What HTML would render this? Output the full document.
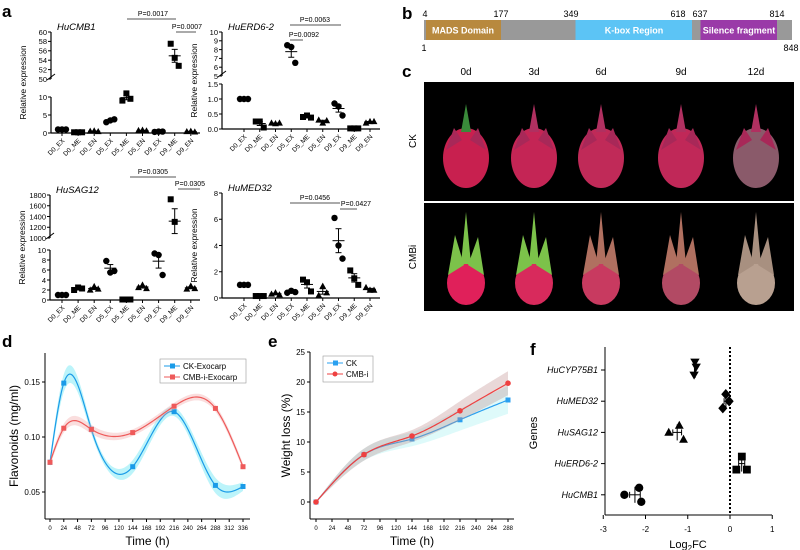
<!DOCTYPE html>
<html><head><meta charset="utf-8"><style>
body{margin:0;background:#fff}
svg{display:block;font-family:"Liberation Sans",Arial,sans-serif}
</style></head><body>
<svg id="fig" width="800" height="550" viewBox="0 0 800 550">
<g font-weight="bold" font-size="17">
<text x="2" y="17">a</text>
<text x="402" y="19">b</text>
<text x="402" y="77">c</text>
<text x="2" y="347">d</text>
<text x="268" y="347">e</text>
<text x="530" y="355">f</text>
</g>
<g font-size="9">
<rect x="424" y="20" width="368" height="20" fill="#999"/>
<rect x="426" y="20" width="75" height="20" fill="#b8893e"/>
<rect x="575.5" y="20" width="116.5" height="20" fill="#5cc4f5"/>
<rect x="700.5" y="20" width="76.5" height="20" fill="#9a3aa8"/>
<text x="463" y="33.5" fill="#fff" font-weight="bold" text-anchor="middle" font-size="9">MADS Domain</text>
<text x="634" y="33.5" fill="#fff" font-weight="bold" text-anchor="middle" font-size="9">K-box Region</text>
<text x="739" y="33.5" fill="#fff" font-weight="bold" text-anchor="middle" font-size="9">Silence fragment</text>
<text x="425" y="17" text-anchor="middle">4</text>
<text x="501" y="17" text-anchor="middle">177</text>
<text x="571" y="17" text-anchor="middle">349</text>
<text x="678" y="17" text-anchor="middle">618</text>
<text x="700" y="17" text-anchor="middle">637</text>
<text x="777" y="17" text-anchor="middle">814</text>
<text x="424" y="51" text-anchor="middle">1</text>
<text x="791" y="51" text-anchor="middle">848</text>
</g>
<g id="photos" font-size="10">
<text x="466" y="75" text-anchor="middle">0d</text>
<text x="534" y="75" text-anchor="middle">3d</text>
<text x="601" y="75" text-anchor="middle">6d</text>
<text x="681" y="75" text-anchor="middle">9d</text>
<text x="756" y="75" text-anchor="middle">12d</text>
<rect x="424" y="82" width="370" height="119" fill="#000"/>
<rect x="424" y="203" width="370" height="108" fill="#000"/>
<text transform="translate(416,141) rotate(-90)" text-anchor="middle">CK</text>
<text transform="translate(416,257) rotate(-90)" text-anchor="middle">CMBi</text>
</g>
<g id="pa"></g>
<g id="pd"></g>
<g id="pe"></g>
<g id="pf"></g>
</svg>
<script>
const NS="http://www.w3.org/2000/svg";
function mk(p,t,a,txt){const e=document.createElementNS(NS,t);for(const k in a)e.setAttribute(k,a[k]);if(txt!==undefined)e.textContent=txt;p.appendChild(e);return e;}

const aCategories=["D0_EX","D0_ME","D0_EN","D5_EX","D5_ME","D5_EN","D9_EX","D9_ME","D9_EN"];
const cmb1Values=[[1,1,1],[0.2,0.2,0.2],[0.5,0.6,0.4],[3.0,3.5,3.8],[9,11,9.5],[0.7,0.8,0.6],[0.3,0.4,0.4],[57.5,54.5,52.8],[0.4,0.5,0.3]];
const erd62Values=[[1,1,1],[0.25,0.25,0.05],[0.2,0.18,0.2],[8.5,8.3,6.5],[0.4,0.45,0.38],[0.3,0.2,0.28],[0.85,0.75,0.45],[0.02,0.02,0.02],[0.2,0.25,0.25]];
const sag12Values=[[1,1,1],[2,2.5,2.3],[2,2.7,2.2],[7.8,5.5,5.8],[0.1,0.1,0.1],[2.5,3,2.3],[9.3,9,5],[1720,1300,920],[2.2,2.8,2.3]];
const med32Values=[[1,1,1],[0.15,0.15,0.15],[0.3,0.4,0.25],[0.4,0.55,0.45],[1.4,1.2,0.5],[0.2,0.9,0.4],[6.1,4.0,3.0],[2.1,1.5,1.0],[0.8,0.6,0.6]];
const cmb1Ticks=[[0,5,10],[50,52,54,56,58,60]];
const erd62Ticks=[["0.0","0.5","1.0","1.5"],[5,6,7,8,9,10]];
const sag12Ticks=[[0,2,4,6,8,10],[1000,1200,1400,1600,1800]];
const med32Ticks=[[0,2,4,6,8]];

function dot(g,shape,x,y,name){
  let e;
  if(shape==="circle") e=mk(g,"circle",{cx:x,cy:y,r:3.2,fill:"#000"});
  else if(shape==="square") e=mk(g,"rect",{x:x-3,y:y-3,width:6,height:6,fill:"#000"});
  else if(shape==="tri") e=mk(g,"polygon",{points:`${x},${y-3.6} ${x-3.4},${y+2.6} ${x+3.4},${y+2.6}`,fill:"#000"});
  else if(shape==="vtri") e=mk(g,"polygon",{points:`${x},${y+3.6} ${x-3.6},${y-2.6} ${x+3.6},${y-2.6}`,fill:"#000"});
  else if(shape==="diamond") e=mk(g,"polygon",{points:`${x},${y-4} ${x-3.5},${y} ${x},${y+4} ${x+3.5},${y}`,fill:"#000"});
  
  
  return e;
}
function stats(v){const m=v.reduce((a,b)=>a+b,0)/v.length;const sd=Math.sqrt(v.reduce((a,b)=>a+(b-m)*(b-m),0)/(v.length-1));return [m,sd/Math.sqrt(v.length)];}

function panelA(cfg){
  const g=mk(document.getElementById("pa"),"g",{});
  
  
  const segs=cfg.segs;
  const yOf=v=>{let s=segs[0];for(const sg of segs){if(v>=sg.lo)s=sg;}return s.y0+(v-s.lo)/(s.hi-s.lo)*(s.y1-s.y0);};
  const xOf=i=>cfg.cx0+i*cfg.step;
  mk(g,"line",{x1:cfg.ax,x2:cfg.xEnd,y1:segs[0].y0,y2:segs[0].y0,stroke:"#000","stroke-width":1.2});
  segs.forEach((s,si)=>{
    mk(g,"line",{x1:cfg.ax,x2:cfg.ax,y1:s.y0,y2:s.y1,stroke:"#000","stroke-width":1.2});
    cfg.ticks[si].forEach(t=>{const yy=s.y0+(+t-s.lo)/(s.hi-s.lo)*(s.y1-s.y0);
      mk(g,"line",{x1:cfg.ax-3,x2:cfg.ax,y1:yy,y2:yy,stroke:"#000"});
      mk(g,"text",{x:cfg.ax-4,y:yy+2.8,"text-anchor":"end","font-size":7.5},t);});
    if(si>0){mk(g,"line",{x1:cfg.ax-4,x2:cfg.ax+4,y1:s.y0+1,y2:s.y0-5,stroke:"#000"});}
  });
  mk(g,"text",{transform:`translate(${cfg.ax-25},${(segs[0].y0+segs[segs.length-1].y1)/2}) rotate(-90)`,"text-anchor":"middle","font-size":8.5},"Relative expression");
  mk(g,"text",{x:cfg.ax+6,y:segs[segs.length-1].y1-2,"font-size":9.5,"font-style":"italic"},cfg.title);
  const shapes=["circle","square","tri"];
  aCategories.forEach((c,i)=>{
    const x=xOf(i);
    mk(g,"line",{x1:x,x2:x,y1:segs[0].y0,y2:segs[0].y0+3,stroke:"#000"});
    mk(g,"text",{transform:`translate(${x+3},${segs[0].y0+8}) rotate(-45)`,"text-anchor":"end","font-size":6.5},c);
    const v=cfg.values[i];const [m,se]=stats(v);
    const offs=[-4,0,4];
    v.forEach((val,k)=>dot(g,shapes[i%3],x+offs[k],yOf(val),"point-"+c.toLowerCase().replace("_","-")));
    const ym=yOf(m),yh=yOf(m+se),yl=yOf(Math.max(0,m-se));
    mk(g,"line",{x1:x-6,x2:x+6,y1:ym,y2:ym,stroke:"#000","stroke-width":1});
    mk(g,"line",{x1:x,x2:x,y1:yl,y2:yh,stroke:"#000","stroke-width":1});
    mk(g,"line",{x1:x-3,x2:x+3,y1:yh,y2:yh,stroke:"#000"});
    mk(g,"line",{x1:x-3,x2:x+3,y1:yl,y2:yl,stroke:"#000"});
  });
  cfg.pvals.forEach(p=>{
    mk(g,"line",{x1:p[0],x2:p[1],y1:p[2],y2:p[2],stroke:"#555","stroke-width":1});
    mk(g,"text",{x:p[3],y:p[2]-3,"text-anchor":"middle","font-size":7},p[4]);
  });
}
panelA({name:"hucmb1-chart",title:"HuCMB1",ax:51,xEnd:200,cx0:62,step:16.1,values:cmb1Values,ticks:cmb1Ticks,
  segs:[{lo:0,hi:10,y0:133,y1:97},{lo:50,hi:60,y0:79,y1:32}],
  pvals:[[127,176,19,153,"P=0.0017"],[176,196,32,187,"P=0.0007"]]});
panelA({name:"huerd6-2-chart",title:"HuERD6-2",ax:222,xEnd:380,cx0:244,step:15.75,values:erd62Values,ticks:erd62Ticks,
  segs:[{lo:0,hi:1.5,y0:129,y1:84},{lo:5,hi:10,y0:76,y1:32}],
  pvals:[[290,341,25,315,"P=0.0063"],[290,303,40,304,"P=0.0092"]]});
panelA({name:"husag12-chart",title:"HuSAG12",ax:50,xEnd:200,cx0:62,step:16.1,values:sag12Values,ticks:sag12Ticks,
  segs:[{lo:0,hi:10,y0:300,y1:250},{lo:1000,hi:1800,y0:238,y1:195}],
  pvals:[[130,176,177,153,"P=0.0305"],[178,200,189,190,"P=0.0305"]]});
panelA({name:"humed32-chart",title:"HuMED32",ax:222,xEnd:380,cx0:244,step:15.75,values:med32Values,ticks:med32Ticks,
  segs:[{lo:0,hi:8,y0:298,y1:193}],
  pvals:[[290,340,203,315,"P=0.0456"],[340,357,209,356,"P=0.0427"]]});

(function(){
  const g=document.getElementById("photos");
  const cx=[466,534,601,681,756];
  const ckCol=["#c8204f","#c42555","#c02a58","#c02858","#8a5a6a"];
  const cmCol=["#e0205a","#d82a5c","#c83a60","#b24a64","#b8a090"];
  cx.forEach((x,i)=>{
    const f=mk(g,"g",{});
    
    
    mk(f,"ellipse",{cx:x,cy:158,rx:23,ry:30,fill:ckCol[i]});
    mk(f,"polygon",{points:`${x-5},${132} ${x},${104} ${x+5},${132}`,fill:i==0?"#3a8a3a":"#b03060"});
    mk(f,"polygon",{points:`${x-20},${150} ${x-12},${128} ${x-4},${140}`,fill:"#a82858"});
    mk(f,"polygon",{points:`${x+4},${140} ${x+12},${128} ${x+20},${150}`,fill:"#a82858"});
    const h=mk(g,"g",{});
    
    
    mk(h,"ellipse",{cx:x,cy:283,rx:19,ry:22,fill:cmCol[i]});
    const sp=i<2?"#7cc24a":(i<4?"#b07060":"#a89080");
    mk(h,"polygon",{points:`${x-5},${264} ${x},${212} ${x+5},${264}`,fill:sp});
    mk(h,"polygon",{points:`${x-18},${275} ${x-11},${235} ${x-2},${265}`,fill:sp});
    mk(h,"polygon",{points:`${x+2},${265} ${x+12},${237} ${x+18},${275}`,fill:sp});
  });
})();

function spline(xs,ys){
  const n=xs.length-1,h=[],al=[],l=[1],mu=[0],z=[0],c=new Array(n+1).fill(0),b=[],d=[];
  for(let i=0;i<n;i++)h.push(xs[i+1]-xs[i]);
  for(let i=1;i<n;i++)al[i]=3/h[i]*(ys[i+1]-ys[i])-3/h[i-1]*(ys[i]-ys[i-1]);
  for(let i=1;i<n;i++){l[i]=2*(xs[i+1]-xs[i-1])-h[i-1]*mu[i-1];mu[i]=h[i]/l[i];z[i]=(al[i]-h[i-1]*z[i-1])/l[i];}
  for(let j=n-1;j>=0;j--){c[j]=(j>0?z[j]-mu[j]*c[j+1]:0);b[j]=(ys[j+1]-ys[j])/h[j]-h[j]*(c[j+1]+2*c[j])/3;d[j]=(c[j+1]-c[j])/(3*h[j]);}
  return t=>{let j=0;while(j<n-1&&t>xs[j+1])j++;const dx=t-xs[j];return ys[j]+b[j]*dx+c[j]*dx*dx+d[j]*dx*dx*dx;};
}
function lineChart(g,cfg){
  const X=v=>cfg.x0+(v-cfg.xmin)/(cfg.xmax-cfg.xmin)*(cfg.x1-cfg.x0);
  const Y=v=>cfg.y0+(v-cfg.ymin)/(cfg.ymax-cfg.ymin)*(cfg.y1-cfg.y0);
  mk(g,"line",{x1:cfg.ax,x2:cfg.ax,y1:cfg.axTop,y2:cfg.axBot,stroke:"#000"});
  mk(g,"line",{x1:cfg.ax,x2:cfg.axRight,y1:cfg.axBot,y2:cfg.axBot,stroke:"#000"});
  cfg.xt.forEach(t=>{mk(g,"line",{x1:X(t),x2:X(t),y1:cfg.axBot,y2:cfg.axBot+3,stroke:"#000"});mk(g,"text",{x:X(t),y:cfg.axBot+11,"text-anchor":"middle","font-size":6},t);});
  cfg.yt.forEach(t=>{mk(g,"line",{x1:cfg.ax-3,x2:cfg.ax,y1:Y(+t),y2:Y(+t),stroke:"#000"});mk(g,"text",{x:cfg.ax-5,y:Y(+t)+3,"text-anchor":"end","font-size":8},t);});
  mk(g,"text",{x:(cfg.ax+cfg.axRight)/2,y:545,"text-anchor":"middle","font-size":12},"Time (h)");
  mk(g,"text",{transform:`translate(${cfg.ylx},${(cfg.axTop+cfg.axBot)/2}) rotate(-90)`,"text-anchor":"middle","font-size":12},cfg.ylab);
  cfg.series.forEach(s=>{
    const f=spline(cfg.times,s.v),fb=spline(cfg.times,s.band);
    let up=[],dn=[],ln=[];
    for(let t=cfg.times[0];t<=cfg.times[cfg.times.length-1]+0.01;t+=2){const y=f(t),w=fb(t);ln.push(X(t)+","+Y(y));up.push(X(t)+","+Y(y+w));dn.unshift(X(t)+","+Y(y-w));}
    const band=mk(g,"polygon",{points:up.concat(dn).join(" "),fill:s.bandCol,opacity:0.35});
    
    
    const pl=mk(g,"polyline",{points:ln.join(" "),fill:"none",stroke:s.col,"stroke-width":1.2});
    
    
    cfg.times.forEach((t,i)=>{
      const m=s.marker==="sq"?mk(g,"rect",{x:X(t)-2.5,y:Y(s.v[i])-2.5,width:5,height:5,fill:s.col}):mk(g,"circle",{cx:X(t),cy:Y(s.v[i]),r:2.8,fill:s.col});
      
      
    });
  });
  const L=cfg.legend;
  const lg=mk(g,"g",{});
  
  
  mk(lg,"rect",{x:L[0],y:L[1],width:L[2],height:L[3],fill:"#fff",stroke:"#999","stroke-width":0.6});
  cfg.series.forEach((s,i)=>{const y=L[1]+7+i*11;
    mk(lg,"line",{x1:L[0]+4,x2:L[0]+20,y1:y,y2:y,stroke:s.col});
    if(s.marker==="sq")mk(lg,"rect",{x:L[0]+10,y:y-2.5,width:5,height:5,fill:s.col});else mk(lg,"circle",{cx:L[0]+12,cy:y,r:2.5,fill:s.col});
    mk(lg,"text",{x:L[0]+23,y:y+3,"font-size":8},s.label);});
}
const dTimes=[0,24,72,144,216,288,336];
const ckExocarp=[0.077,0.149,0.107,0.073,0.123,0.056,0.055];
const cmbExocarp=[0.077,0.108,0.107,0.104,0.128,0.126,0.073];
const ckExoBand=[0.004,0.008,0.004,0.006,0.004,0.007,0.004];
const cmbExoBand=[0.003,0.004,0.004,0.003,0.003,0.003,0.003];
const dXTicks=[0,24,48,72,96,120,144,168,192,216,240,264,288,312,336];
const dYTicks=["0.05","0.10","0.15"];
lineChart(document.getElementById("pd"),{xmin:0,xmax:336,x0:50,x1:243,ymin:0.05,ymax:0.15,y0:492,y1:382,
  ax:45,axTop:353,axBot:519,axRight:250,xt:dXTicks,yt:dYTicks,times:dTimes,ylx:18,ylab:"Flavonoids (mg/ml)",
  legend:[160,359,86,24],
  series:[{name:"ck-exocarp",label:"CK-Exocarp",v:ckExocarp,band:ckExoBand,col:"#1a9be8",bandCol:"#40e0f0",marker:"sq"},
          {name:"cmb-i-exocarp",label:"CMB-i-Exocarp",v:cmbExocarp,band:cmbExoBand,col:"#ee5a5a",bandCol:"#f0a0a0",marker:"sq"}]});
const eTimes=[0,72,144,216,288];
const ckWeight=[0,7.9,10.5,13.7,17.0];
const cmbWeight=[0,7.9,11.0,15.2,19.8];
const ckWeightBand=[0.1,1.0,1.2,1.8,2.3];
const cmbWeightBand=[0.1,1.0,1.0,1.6,2.0];
const eXTicks=[0,24,48,72,96,120,144,168,192,216,240,264,288];
const eYTicks=["0","5","10","15","20","25"];
lineChart(document.getElementById("pe"),{xmin:0,xmax:288,x0:316,x1:508,ymin:0,ymax:25,y0:502,y1:352,
  ax:310,axTop:352,axBot:519,axRight:514,xt:eXTicks,yt:eYTicks,times:eTimes,ylx:290,ylab:"Weight loss (%)",
  legend:[323,356,50,26],
  series:[{name:"ck",label:"CK",v:ckWeight,band:ckWeightBand,col:"#2aa0f0",bandCol:"#a0f0f0",marker:"sq"},
          {name:"cmb-i",label:"CMB-i",v:cmbWeight,band:cmbWeightBand,col:"#ee4040",bandCol:"#c09090",marker:"c"}]});
const fGenes=["HuCYP75B1","HuMED32","HuSAG12","HuERD6-2","HuCMB1"];
const fValues=[[-0.83,-0.8,-0.85],[-0.1,-0.02,-0.17],[-1.2,-1.45,-1.1],[0.28,0.15,0.4],[-2.15,-2.5,-2.1]];
const fYJitter=[[-8,-3,5],[-7,0,7],[-7,0,7],[-7,6,6],[-7,0,7]];
const fXTicks=[-3,-2,-1,0,1];
(function(){
  const g=document.getElementById("pf");
  const X=v=>730+v*42.25, Y=i=>370+i*31.2;
  mk(g,"line",{x1:605,x2:605,y1:347,y2:515,stroke:"#000"});
  mk(g,"line",{x1:605,x2:772,y1:515,y2:515,stroke:"#000"});
  mk(g,"line",{x1:X(0),x2:X(0),y1:347,y2:515,stroke:"#000","stroke-width":2,"stroke-dasharray":"2,2"});
  fXTicks.forEach(t=>{mk(g,"line",{x1:X(t),x2:X(t),y1:515,y2:519,stroke:"#000"});mk(g,"text",{x:X(t),y:532,"text-anchor":"middle","font-size":8},t);});
  const lt=mk(g,"text",{x:688,y:548,"text-anchor":"middle","font-size":11});
  mk(lt,"tspan",{},"Log");mk(lt,"tspan",{"font-size":8,dy:3},"2");mk(lt,"tspan",{dy:-3},"FC");
  mk(g,"text",{transform:"translate(537,433) rotate(-90)","text-anchor":"middle","font-size":11},"Genes");
  const shapes=["vtri","diamond","tri","square","circle"];
  fGenes.forEach((gn,i)=>{
    const y=Y(i);
    mk(g,"line",{x1:601,x2:605,y1:y,y2:y,stroke:"#000"});
    mk(g,"text",{x:598,y:y+3,"text-anchor":"end","font-size":9,"font-style":"italic"},gn);
    const v=fValues[i];const [m,se]=stats(v);
    v.forEach((val,k)=>{const yy=y+fYJitter[i][k];const d=dot(g,shapes[i],X(val),yy,"point-"+gn.toLowerCase());d.setAttribute("transform",`translate(${X(val)},${yy}) scale(1.3) translate(${-X(val)},${-yy})`);});
    mk(g,"line",{x1:X(m),x2:X(m),y1:y-8,y2:y+8,stroke:"#000"});
    mk(g,"line",{x1:X(m-se),x2:X(m+se),y1:y,y2:y,stroke:"#000"});
    mk(g,"line",{x1:X(m-se),x2:X(m-se),y1:y-3,y2:y+3,stroke:"#000"});
    mk(g,"line",{x1:X(m+se),x2:X(m+se),y1:y-3,y2:y+3,stroke:"#000"});
  });
})();
</script>
</body></html>
